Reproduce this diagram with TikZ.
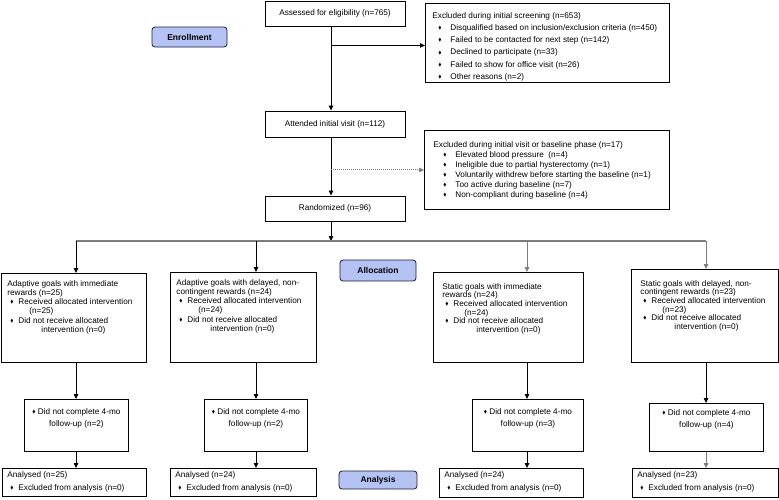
\documentclass[tikz,border=0pt]{standalone}
\usepackage{fontspec}
\setmainfont{Liberation Sans}
\usepackage{amssymb}
\usepackage{graphicx}
\usetikzlibrary{arrows.meta}
\usetikzlibrary{positioning}

\definecolor{phasefill}{RGB}{180,194,244}
\definecolor{phasedraw}{RGB}{28,28,56}
\definecolor{flowgray}{RGB}{125,125,125}

% small diamond bullet
\newcommand{\dmd}{\raisebox{0.8pt}{\scalebox{0.58}{$\blacklozenge$}}}
% bullet: offset before it, room between bullet and text
\newcommand{\dmditem}[2]{\hspace*{#1}\makebox[#2][l]{\dmd}}
% parbox of fixed height, text hanging from the top
\newcommand{\toplist}[3]{\parbox[t][#1][t]{#2}{\raggedright #3}}

\tikzset{
    state/.style={
           rectangle,
           draw=black, line width=0.9pt,
           inner sep=2pt,
           text centered,
           font=\fontsize{8.2}{9}\selectfont,
           },
    phase/.style={
           rectangle,
           rounded corners=3pt,
           draw=phasedraw, line width=0.8pt,
           fill=phasefill,
           font=\fontsize{8.5}{10}\selectfont\bfseries,
           },
    distline/.style={flowgray, line width=1.4pt},
}

\begin{document}
\begin{tikzpicture}[x=1pt,y=1pt,->,>={Triangle[length=5pt,width=4.5pt]},line width=0.8pt]
 \useasboundingbox (0,0) rectangle (779,-499);

 % main column: eligibility -> visit -> randomization
 \node[state,
  minimum width=140pt,
  minimum height=25pt,
  anchor=center] (Assessed) at (335,-13.5)
 {Assessed for eligibility (n=765)};

 \node[state,
  minimum width=140pt,
  minimum height=26pt,
  below of=Assessed,
  node distance=110.5pt,
  anchor=center] (Attended)
 {Attended initial visit (n=112)};

 \node[state,
  minimum width=140pt,
  minimum height=25pt,
  below of=Attended,
  node distance=84.5pt,
  anchor=center] (Randomized)
 {Randomized (n=96)};

 % exclusion boxes on the right, parbox to keep the listing at the top
 \node[state,
  anchor=north west,
  inner xsep=7pt, inner ysep=9pt,
  font=\fontsize{8.2}{12.2}\selectfont] (Screening) at (425,-3)
 {\toplist{61pt}{230pt}{Excluded during initial screening (n=653)\\
  \dmditem{6pt}{12pt}Disqualified based on inclusion/exclusion criteria (n=450)\\
  \dmditem{6pt}{12pt}Failed to be contacted for next step (n=142)\\
  \dmditem{6pt}{12pt}Declined to participate (n=33)\\
  \dmditem{6pt}{12pt}Failed to show for office visit (n=26)\\
  \dmditem{6pt}{12pt}Other reasons (n=2)}};

 \node[state,
  anchor=north west,
  inner xsep=9pt, inner ysep=11pt,
  font=\fontsize{8.2}{10}\selectfont] (Baseline) at (424,-130)
 {\toplist{57pt}{227pt}{Excluded during initial visit or baseline phase (n=17)\\
  \dmditem{10pt}{12pt}Elevated blood pressure\ \ (n=4)\\
  \dmditem{10pt}{12pt}Ineligible due to partial hysterectomy (n=1)\\
  \dmditem{10pt}{12pt}Voluntarily withdrew before starting the baseline (n=1)\\
  \dmditem{10pt}{12pt}Too active during baseline (n=7)\\
  \dmditem{10pt}{12pt}Non-compliant during baseline (n=4)}};

 % phase labels
 \node[phase, minimum width=75pt, minimum height=20pt] (Enrollment) at (189.5,-37) {Enrollment};
 \node[phase, minimum width=76pt, minimum height=21pt] (Allocation) at (378,-270.5) {Allocation};
 \node[phase, minimum width=78pt, minimum height=18pt] (Analysis) at (378,-480) {Analysis};

 % STATE allocation, one box per arm
 \node[state,
  anchor=north west,
  inner xsep=6pt, inner ysep=7pt,
  font=\fontsize{8.2}{9.2}\selectfont] (Arm1) at (1,-273)
 {\toplist{75pt}{133pt}{Adaptive goals with immediate\\
  rewards (n=25)\\
  \dmditem{3pt}{8pt}Received allocated intervention\\
  \hspace*{22pt}(n=25)\\
  \dmditem{3pt}{8pt}Did not receive allocated\\
  \hspace*{34pt}intervention (n=0)}};

 \node[state,
  anchor=north west,
  inner xsep=6pt, inner ysep=7pt,
  font=\fontsize{8.2}{9.2}\selectfont] (Arm2) at (170,-272)
 {\toplist{76pt}{134pt}{Adaptive goals with delayed, non-\\
  contingent rewards (n=24)\\
  \dmditem{3pt}{8pt}Received allocated intervention\\
  \hspace*{22pt}(n=24)\\
  \dmditem{3pt}{8pt}Did not receive allocated\\
  \hspace*{34pt}intervention (n=0)}};

 \node[state,
  anchor=north west,
  inner xsep=9pt, inner ysep=11pt,
  font=\fontsize{8.2}{8.6}\selectfont] (Arm3) at (433,-272)
 {\toplist{68pt}{132pt}{Static goals with immediate\\
  rewards (n=24)\\
  \dmditem{3pt}{8pt}Received allocated intervention\\
  \hspace*{22pt}(n=24)\\
  \dmditem{3pt}{8pt}Did not receive allocated\\
  \hspace*{34pt}intervention (n=0)}};

 \node[state,
  anchor=north west,
  inner xsep=9pt, inner ysep=11pt,
  font=\fontsize{8.2}{8.6}\selectfont] (Arm4) at (631,-269)
 {\toplist{71pt}{129pt}{Static goals with delayed, non-\\
  contingent rewards (n=23)\\
  \dmditem{3pt}{8pt}Received allocated intervention\\
  \hspace*{22pt}(n=23)\\
  \dmditem{3pt}{8pt}Did not receive allocated\\
  \hspace*{34pt}intervention (n=0)}};

 % follow-up losses
 \node[state, anchor=north west, inner xsep=2pt, inner ysep=9pt,
  font=\fontsize{8.2}{12}\selectfont] (Lost1) at (24,-399)
 {\toplist{34pt}{100pt}{\centering \dmd\ Did not complete 4-mo\\ follow-up (n=2)}};
 \node[state, anchor=north west, inner xsep=2pt, inner ysep=9pt,
  font=\fontsize{8.2}{12}\selectfont] (Lost2) at (204,-399)
 {\toplist{34pt}{99pt}{\centering \dmd\ Did not complete 4-mo\\ follow-up (n=2)}};
 \node[state, anchor=north west, inner xsep=2pt, inner ysep=9pt,
  font=\fontsize{8.2}{12}\selectfont] (Lost3) at (472,-399)
 {\toplist{34pt}{107pt}{\centering \dmd\ Did not complete 4-mo\\ follow-up (n=3)}};
 \node[state, anchor=north west, inner xsep=2pt, inner ysep=6pt,
  font=\fontsize{8.2}{12}\selectfont] (Lost4) at (649,-403)
 {\toplist{36pt}{110pt}{\centering \dmd\ Did not complete 4-mo\\ follow-up (n=4)}};

 % analysis boxes
 \node[state, anchor=north west, inner xsep=5pt, inner ysep=3pt,
  font=\fontsize{8.2}{12.7}\selectfont] (Ana1) at (2,-468)
 {\toplist{22pt}{134pt}{Analysed (n=25)\\ \dmditem{3pt}{8pt}Excluded from analysis (n=0)}};
 \node[state, anchor=north west, inner xsep=5pt, inner ysep=3pt,
  font=\fontsize{8.2}{12.7}\selectfont] (Ana2) at (170,-468)
 {\toplist{22pt}{136pt}{Analysed (n=24)\\ \dmditem{3pt}{8pt}Excluded from analysis (n=0)}};
 \node[state, anchor=north west, inner xsep=5pt, inner ysep=3pt,
  font=\fontsize{8.2}{12.7}\selectfont] (Ana3) at (439,-468)
 {\toplist{23pt}{134pt}{Analysed (n=24)\\ \dmditem{3pt}{8pt}Excluded from analysis (n=0)}};
 \node[state, anchor=north west, inner xsep=5pt, inner ysep=3pt,
  font=\fontsize{8.2}{12.7}\selectfont] (Ana4) at (632,-468)
 {\toplist{23pt}{136pt}{Analysed (n=23)\\ \dmditem{3pt}{8pt}Excluded from analysis (n=0)}};

 % split points on the distribution line
 \coordinate (Split) at (331,-241);
 \coordinate (Drop1) at (76,-241);
 \coordinate (Drop2) at (256,-241);
 \coordinate (Drop3) at (527,-241);
 \coordinate (Drop4) at (706,-241);

 % draw the paths
 \draw ([xshift=-4pt]Assessed.south) -- ([xshift=-4pt]Attended.north);
 \draw ([xshift=-4pt,yshift=-2.5pt]Assessed.south |- Screening.west) -- ([yshift=-2.5pt]Screening.west);
 \draw ([xshift=-4pt]Attended.south) -- ([xshift=-4pt]Randomized.north);
 \draw[flowgray, densely dotted, line width=1pt] ([xshift=-4pt]Attended.south |- Baseline.west) -- (Baseline.west);
 \draw ([xshift=-4pt]Randomized.south) -- (Split);
 \draw[-, distline] (Drop1) -- (Drop4);

 \draw (Drop1) -- (Drop1 |- Arm1.north);
 \draw (Drop2) -- (Drop2 |- Arm2.north);
 \draw[flowgray] (Drop3) -- (Drop3 |- Arm3.north);
 \draw[flowgray] (Drop4) -- (Drop4 |- Arm4.north);

 \draw (Drop1 |- Arm1.south) -- (Drop1 |- Lost1.north);
 \draw (Drop2 |- Arm2.south) -- (Drop2 |- Lost2.north);
 \draw (Drop3 |- Arm3.south) -- (Drop3 |- Lost3.north);
 \draw (Drop4 |- Arm4.south) -- (Drop4 |- Lost4.north);

 \draw (Drop1 |- Lost1.south) -- (Drop1 |- Ana1.north);
 \draw (Drop2 |- Lost2.south) -- (Drop2 |- Ana2.north);
 \draw (Drop3 |- Lost3.south) -- (Drop3 |- Ana3.north);
 \draw[flowgray] (Drop4 |- Lost4.south) -- (Drop4 |- Ana4.north);

\end{tikzpicture}
\end{document}
